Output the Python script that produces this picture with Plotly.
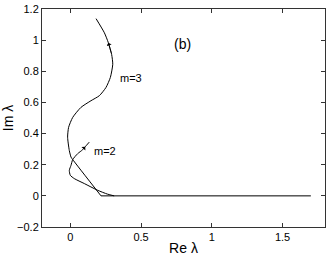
import plotly.graph_objects as go

# Real axis segment (real eigenvalues)
real_x = [0.217, 1.70]
real_y = [0.0, 0.0]

# m=2 branch (starts on real axis, loops, ends with arrow)
m2_x = [0.31, 0.263, 0.193, 0.099, 0.028, 0.0, -0.007, 0.005, 0.017, 0.052, 0.087, 0.105, 0.134]
m2_y = [0.0, 0.011, 0.036, 0.079, 0.111, 0.132, 0.164, 0.196, 0.233, 0.271, 0.296, 0.315, 0.345]

# m=3 branch (starts on real axis, rises to top)
m3_x = [0.217, 0.017, 0.005, -0.007, -0.019, -0.012, 0.017, 0.075, 0.146, 0.205, 0.252, 0.283, 0.300, 0.292, 0.269, 0.241, 0.182]
m3_y = [0.0, 0.233, 0.249, 0.291, 0.377, 0.440, 0.504, 0.568, 0.611, 0.643, 0.696, 0.760, 0.845, 0.909, 0.983, 1.047, 1.138]

x_ticks = [0, 0.5, 1, 1.5]
y_ticks = [-0.2, 0, 0.2, 0.4, 0.6, 0.8, 1, 1.2]

FONT = "Liberation Sans, Arial, sans-serif"
line = dict(color="black", width=1)

fig = go.Figure()
fig.add_trace(go.Scatter(x=real_x, y=real_y, mode="lines", line=line, showlegend=False))
fig.add_trace(go.Scatter(x=m2_x, y=m2_y, mode="lines", line=dict(color="black", width=1, shape="spline", smoothing=0.6), showlegend=False))
fig.add_trace(go.Scatter(x=m3_x, y=m3_y, mode="lines", line=dict(color="black", width=1, shape="spline", smoothing=0.6), showlegend=False))

annotations = []
# direction arrows along curves
for xs, ys, i in [(m2_x, m2_y, 11), (m3_x, m3_y, 14)]:
    annotations.append(dict(x=xs[i], y=ys[i], ax=xs[i - 1], ay=ys[i - 1], xref="x", yref="y",
                            axref="x", ayref="y", showarrow=True, arrowhead=1, arrowsize=1.1,
                            arrowwidth=0.8, arrowcolor="black", text=""))
annotations += [
    dict(x=0.79, y=0.975, text="(b)", showarrow=False, font=dict(family=FONT, size=14, color="black")),
    dict(x=0.43, y=0.76, text="m=3", showarrow=False, font=dict(family=FONT, size=11, color="black")),
    dict(x=0.245, y=0.29, text="m=2", showarrow=False, font=dict(family=FONT, size=11, color="black")),
]

axis_common = dict(showgrid=False, zeroline=False, showline=True, linecolor="#333", linewidth=1,
                   mirror="allticks", ticks="inside", ticklen=4, tickcolor="#333",
                   tickfont=dict(family=FONT, size=11, color="black"))

fig.update_layout(
    width=327, height=256,
    margin=dict(l=42, r=2, t=9, b=29),
    plot_bgcolor="white", paper_bgcolor="white",
    annotations=annotations,
    xaxis=dict(range=[-0.2, 1.8], tickvals=x_ticks, ticktext=["0", "0.5", "1", "1.5"],
               title=dict(text="Re λ", font=dict(family=FONT, size=14, color="black"), standoff=0),
               **axis_common),
    yaxis=dict(range=[-0.2, 1.2], tickvals=y_ticks,
               ticktext=["\u22120.2", "0", "0.2", "0.4", "0.6", "0.8", "1", "1.2"],
               title=dict(text="Im λ", font=dict(family=FONT, size=14, color="black"), standoff=4),
               **axis_common),
)

fig.write_html("out.html", config={"displayModeBar": False},
               post_script="document.body.style.margin='0px';document.body.style.overflow='hidden';")
